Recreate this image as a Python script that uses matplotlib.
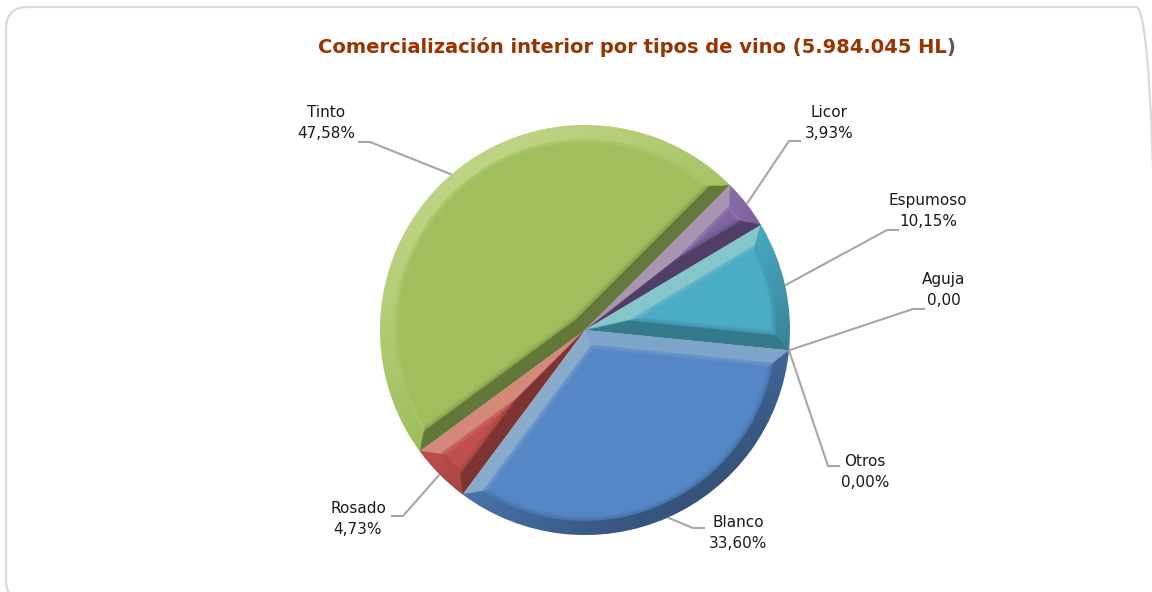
import matplotlib
matplotlib.use("Agg")
import matplotlib.pyplot as plt
import numpy as np
from matplotlib.patches import FancyBboxPatch

# datos
tipos = ["Licor", "Espumoso", "Aguja", "Otros", "Blanco", "Rosado", "Tinto"]
valores = [3.93, 10.15, 0.0, 0.0, 33.60, 4.73, 47.58]
etiquetas = ["3,93%", "10,15%", "0,00", "0,00%", "33,60%", "4,73%", "47,58%"]
colores = ["#8064A2", "#4BACC6", "#4BACC6", "#4F81BD", "#5586C6", "#C0504D", "#9FBF5C"]
titulo = "Comercialización interior por tipos de vino (5.984.045 HL"

W, H = 1152, 592
cx, cy, R = 585, H - 330, 205

# posiciones (px imagen): centro del texto, codo de la linea, final horizontal
layout = {
    "Licor":    ((829, 123), (789, 141), (801, 141)),
    "Espumoso": ((928, 211), (887, 230), (899, 230)),
    "Aguja":    ((944, 290), (913, 309), (925, 309)),
    "Otros":    ((865, 472), (828, 466), (840, 466)),
    "Blanco":   ((738, 533), (693, 528), (705, 528)),
    "Rosado":   ((358, 519), (403, 516), (391, 516)),
    "Tinto":    ((326, 123), (370, 142), (358, 142)),
}

fig = plt.figure(figsize=(W / 100, H / 100), dpi=100)
ax = fig.add_axes([0, 0, 1, 1])

wedges, _ = ax.pie(valores, colors=colores, startangle=45, counterclock=False,
                   radius=R, center=(cx, cy), wedgeprops=dict(linewidth=0))

# efecto bisel: capa de luz/sombra recortada a cada porcion
xs = np.linspace(cx - R, cx + R, 820)
ys = np.linspace(cy - R, cy + R, 820)
X, Y = np.meshgrid(xs, ys)
dx, dy = X - cx, Y - cy
r = np.hypot(dx, dy) + 1e-9
L = np.array([-0.55, 0.83])
bw = 15.0
for w in wedges:
    if w.theta2 - w.theta1 < 0.05:
        continue
    t1, t2 = np.radians(w.theta1), np.radians(w.theta2)
    d = np.stack([R - r,
                  np.cos(t1) * dy - np.sin(t1) * dx,
                  np.sin(t2) * dx - np.cos(t2) * dy])
    nx = np.stack([dx / r, np.full_like(r, np.sin(t1)), np.full_like(r, -np.sin(t2))])
    ny = np.stack([dy / r, np.full_like(r, -np.cos(t1)), np.full_like(r, np.cos(t2))])
    k = np.argmin(d, axis=0)
    dmin = np.take_along_axis(d, k[None], 0)[0]
    s = (np.take_along_axis(nx, k[None], 0)[0] * L[0] +
         np.take_along_axis(ny, k[None], 0)[0] * L[1])
    f = np.clip((bw - dmin) / 1.5, 0, 1)
    # ligera sombra en el borde interior del bisel
    ridge = np.exp(-((dmin - bw) / 2.5) ** 2) * 0.12
    rgba = np.zeros(X.shape + (4,))
    luz = s > 0
    rgba[luz, :3] = (1.0, 1.0, 0.85)
    a = np.where(luz, s * 0.33, -s * 0.38) * f
    a = np.maximum(a, ridge * (1 - f))
    rgba[..., 3] = np.clip(a, 0, 1)
    im = ax.imshow(rgba, extent=(cx - R, cx + R, cy - R, cy + R), origin="lower",
                   interpolation="bilinear", zorder=2)
    im.set_clip_path(w)

# etiquetas y lineas guia
for w, tipo, etq in zip(wedges, tipos, etiquetas):
    ang = np.radians((w.theta1 + w.theta2) / 2)
    x0, y0 = cx + R * np.cos(ang), cy + R * np.sin(ang)
    (tx, ty), (ex, ey), (hx, hy) = layout[tipo]
    ax.plot([x0, ex, hx], [y0, H - ey, H - hy], color="#a6a6a6", lw=1.5,
            solid_capstyle="butt", zorder=3)
    ax.text(tx, H - ty, f"{tipo}\n{etq}", ha="center", va="center",
            multialignment="center", fontsize=11, color="#1a1a1a",
            linespacing=1.45, zorder=4)

t = ax.text(632, H - 47, titulo, ha="center", va="center", fontsize=14,
            fontweight="bold", color="#993300")
ax.annotate(")", xy=(1, 0), xycoords=t, va="bottom", ha="left",
            fontsize=14, fontweight="bold", color="#595959")

borde = FancyBboxPatch((6, -10), 1152, H - 7 + 10, boxstyle="round,pad=0,rounding_size=22",
                       fc="none", ec="#d9d9d9", lw=1.6, zorder=0)
ax.add_patch(borde)

ax.set_xlim(0, W)
ax.set_ylim(0, H)
ax.set_aspect("equal")
ax.axis("off")
fig.savefig("out.png", dpi=100)
